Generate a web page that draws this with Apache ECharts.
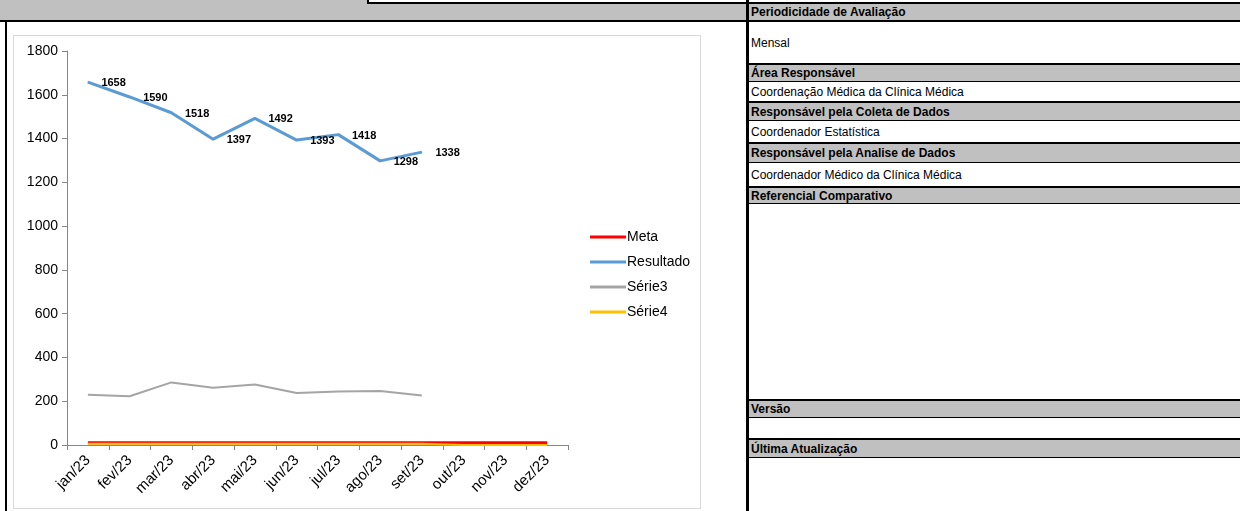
<!DOCTYPE html>
<html>
<head>
<meta charset="utf-8">
<script src="https://cdn.jsdelivr.net/npm/echarts@6/dist/echarts.min.js"></script>
<style>
  html, body { margin:0; padding:0; background:#fff; }
  body { width:1240px; height:511px; position:relative; overflow:hidden; font-family:"Liberation Sans", Arial, sans-serif; }
  .abs { position:absolute; box-sizing:border-box; }
  .gray { background:#C0C0C0; }
  .blk { background:#000; }
  .cell { position:absolute; left:749px; width:491px; box-sizing:border-box; font-size:12px; color:#000; padding-left:2px; display:flex; align-items:center; white-space:nowrap; }
  .hdr { background:#C0C0C0; font-weight:bold; }
  #chart { position:absolute; left:13px; top:35px; width:688px; height:474px; border:1px solid #D9D9D9; box-sizing:border-box; }
</style>
</head>
<body>
<!-- top band -->
<div class="abs gray" style="left:0;top:0;width:368px;height:20px;"></div>
<div class="abs gray" style="left:368px;top:4px;width:872px;height:16px;"></div>
<div class="abs blk" style="left:368px;top:2px;width:872px;height:2px;"></div>
<div class="abs blk" style="left:367px;top:0;width:2px;height:4px;"></div>
<div class="abs blk" style="left:0;top:20px;width:1240px;height:2px;"></div>
<div class="abs blk" style="left:5px;top:20px;width:2px;height:491px;"></div>
<div class="abs blk" style="left:746px;top:0;width:3px;height:511px;"></div>

<div id="table"></div>
<div id="chart"></div>

<script>
// ---- data ----
const months = ['jan/23','fev/23','mar/23','abr/23','mai/23','jun/23','jul/23','ago/23','set/23','out/23','nov/23','dez/23'];
const meta = [10,10,10,10,10,10,10,10,10,10,10,10];
const resultado = [1658,1590,1518,1397,1492,1393,1418,1298,1338,null,null,null];
const serie3 = [230,223,286,262,276,238,244,247,226,null,null,null];
const serie4 = [6,6,6,6,6,6,6,6,6,0,0,0];
const yTicks = { min:0, max:1800, interval:200 };

// ---- table rows (text) ----
const tableRows = [
  {t:'Periodicidade de Avaliação', hdr:true, top:4, h:16, noBorder:true},
  {t:'Mensal', hdr:false, top:22, h:41},
  {t:'Área Responsável', hdr:true, top:63, h:19},
  {t:'Coordenação Médica da Clínica Médica', hdr:false, top:82, h:19},
  {t:'Responsável pela Coleta de Dados', hdr:true, top:101, h:20},
  {t:'Coordenador Estatística', hdr:false, top:121, h:21},
  {t:'Responsável pela Analise de Dados', hdr:true, top:142, h:21},
  {t:'Coordenador Médico da Clínica Médica', hdr:false, top:163, h:23},
  {t:'Referencial Comparativo', hdr:true, top:186, h:18},
  {t:'', hdr:false, top:204, h:195},
  {t:'Versão', hdr:true, top:399, h:19},
  {t:'', hdr:false, top:418, h:20},
  {t:'Última Atualização', hdr:true, top:438, h:20},
  {t:'', hdr:false, top:458, h:53}
];
const tbl = document.getElementById('table');
tableRows.forEach(r => {
  const d = document.createElement('div');
  d.className = 'cell' + (r.hdr ? ' hdr' : '');
  d.style.top = r.top + 'px';
  d.style.height = r.h + 'px';
  if (r.hdr && !r.noBorder) { d.style.borderTop = '2px solid #000'; d.style.borderBottom = '1px solid #000'; }
  d.textContent = r.t;
  tbl.appendChild(d);
});

// ---- chart ----
const chart = echarts.init(document.getElementById('chart'), null, {renderer:'canvas'});
const font = '"Liberation Sans", Arial, sans-serif';
chart.setOption({
  animation:false,
  textStyle:{ fontFamily:font },
  grid:{ left:53, top:15, width:501, height:394, containLabel:false },
  legend:{
    orient:'vertical', left:571, top:188, itemWidth:36, itemHeight:3, itemGap:9, icon:'rect',
    textStyle:{ fontSize:14, color:'#000', fontFamily:font, lineHeight:16, padding:[0,0,0,-4] },
    data:['Meta','Resultado','Série3','Série4']
  },
  xAxis:{
    type:'category', data:months, boundaryGap:true,
    axisLine:{ lineStyle:{ color:'#868686', width:1 } },
    axisTick:{ show:true, alignWithLabel:false, length:5, lineStyle:{ color:'#868686' } },
    axisLabel:{ rotate:45, fontSize:15, color:'#000', margin:13, fontFamily:font, interval:0 },
    splitLine:{ show:false }
  },
  yAxis:{
    type:'value', min:yTicks.min, max:yTicks.max, interval:yTicks.interval,
    axisLine:{ show:true, lineStyle:{ color:'#868686', width:1 } },
    axisTick:{ show:true, length:5, lineStyle:{ color:'#868686' } },
    axisLabel:{ fontSize:14, color:'#000', margin:9, fontFamily:font, formatter: v => String(v) },
    splitLine:{ show:false }
  },
  series:[
    { name:'Meta', type:'line', data:meta, symbol:'none', lineStyle:{ color:'#FF0000', width:3 }, itemStyle:{ color:'#FF0000' }, z:2 },
    { name:'Resultado', type:'line', data:resultado, symbol:'circle', symbolSize:1, showSymbol:true,
      lineStyle:{ color:'#5B9BD5', width:3 }, itemStyle:{ color:'#5B9BD5' }, z:3,
      label:{ show:true, position:'right', distance:13, offset:[0,1], fontWeight:'bold', fontSize:11, color:'#000', fontFamily:font } },
    { name:'Série3', type:'line', data:serie3, symbol:'none', lineStyle:{ color:'#A5A5A5', width:2 }, itemStyle:{ color:'#A5A5A5' }, z:2 },
    { name:'Série4', type:'line', data:serie4, symbol:'none', lineStyle:{ color:'#FFC000', width:2 }, itemStyle:{ color:'#FFC000' }, z:2 }
  ]
});
</script>
</body>
</html>
